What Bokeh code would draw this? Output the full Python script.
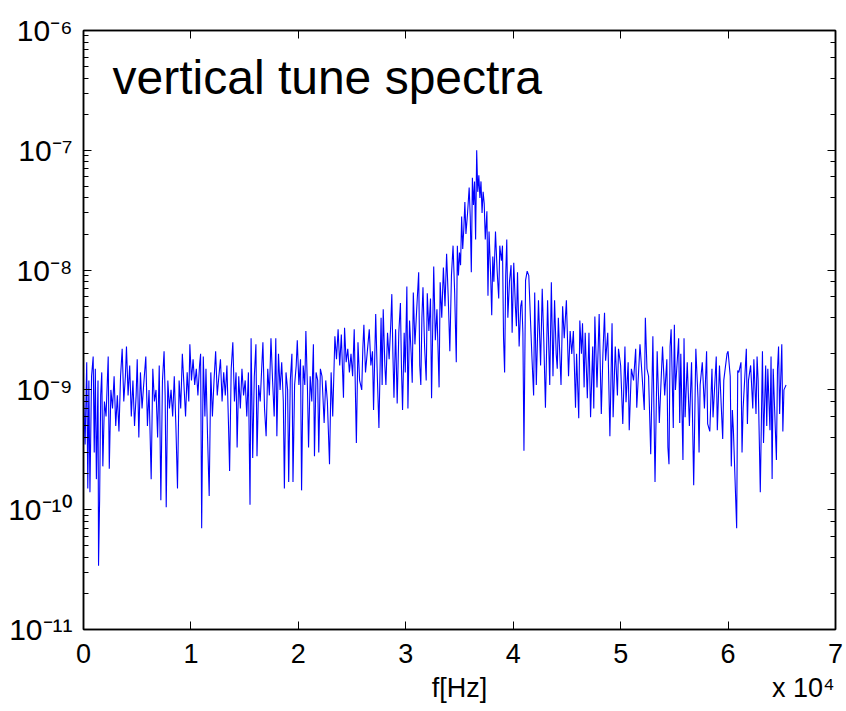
import numpy as np
from bokeh.plotting import figure
from bokeh.models import Range1d, LinearAxis, LogAxis, FixedTicker, Label, CustomJSTickFormatter
from bokeh.embed import file_html
from bokeh.resources import INLINE

# frequency in units of 1e4 Hz, spectral value in units of 1e-9
seg_a = [(0.000, 0.9), (0.015, 0.35), (0.030, 1.7), (0.040, 0.15), (0.050, 1.2), (0.060, 0.14),
         (0.075, 1.3), (0.090, 1.9), (0.100, 0.3), (0.110, 1.5), (0.120, 0.18), (0.135, 1.2),
         (0.140, 0.034), (0.150, 0.12), (0.160, 0.9), (0.170, 1.4), (0.180, 0.23), (0.195, 0.8),
         (0.210, 0.6), (0.230, 1.9), (0.240, 0.22), (0.255, 1.0), (0.270, 0.7), (0.285, 1.3),
         (0.300, 0.5), (0.315, 0.9), (0.330, 0.45), (0.345, 1.3), (0.360, 2.2), (0.375, 0.8),
         (0.390, 1.3), (0.400, 2.3), (0.415, 0.9), (0.430, 1.6), (0.445, 0.6), (0.460, 1.2),
         (0.475, 0.5), (0.490, 0.9), (0.500, 1.8), (0.515, 0.4), (0.530, 1.4), (0.545, 0.7),
         (0.560, 1.1), (0.580, 1.9), (0.595, 0.5), (0.610, 1.0), (0.630, 0.18), (0.645, 1.5),
         (0.660, 0.8), (0.675, 1.0), (0.690, 0.4), (0.705, 1.6), (0.720, 0.12), (0.735, 1.2),
         (0.750, 2.1), (0.760, 0.9), (0.770, 0.105), (0.785, 1.2), (0.800, 0.7), (0.815, 1.0),
         (0.830, 0.6), (0.845, 1.3), (0.860, 0.5), (0.875, 0.15), (0.890, 1.2), (0.905, 0.7),
         (0.920, 2.0), (0.935, 1.1), (0.950, 0.6), (0.965, 1.4), (0.980, 0.8), (0.990, 2.4),
         (1.005, 1.2), (1.020, 1.8), (1.035, 1.1), (1.050, 1.5), (1.065, 0.9), (1.080, 1.6),
         (1.090, 2.0), (1.100, 0.07), (1.115, 1.9), (1.130, 0.6), (1.140, 1.5), (1.155, 0.4),
         (1.170, 0.13), (1.185, 1.4), (1.200, 0.6), (1.215, 1.2), (1.230, 2.1), (1.245, 0.9),
         (1.260, 1.3), (1.275, 1.8), (1.290, 0.8), (1.305, 1.4), (1.320, 0.9), (1.335, 1.6),
         (1.350, 0.5), (1.360, 0.21), (1.375, 1.5), (1.390, 2.5)]

seg_b = [(1.405, 0.8), (1.420, 1.4), (1.430, 0.33), (1.445, 1.3), (1.460, 0.7), (1.475, 1.5),
         (1.490, 0.9), (1.505, 1.2), (1.520, 0.6), (1.535, 1.4), (1.550, 0.11), (1.560, 2.7),
         (1.575, 0.27), (1.590, 1.3), (1.605, 2.4), (1.615, 0.28), (1.630, 1.1), (1.645, 0.8),
         (1.660, 1.6), (1.670, 2.5), (1.685, 0.7), (1.700, 0.41), (1.715, 1.5), (1.730, 0.9),
         (1.745, 2.7), (1.760, 1.2), (1.775, 0.6), (1.790, 2.7), (1.800, 0.41), (1.815, 2.0),
         (1.830, 1.0), (1.845, 1.7), (1.860, 0.8), (1.870, 0.15), (1.885, 1.4), (1.900, 1.0),
         (1.910, 0.17), (1.925, 1.2), (1.940, 2.0), (1.950, 0.17), (1.965, 1.1), (1.980, 1.6),
         (1.990, 2.6), (2.005, 1.1), (2.020, 1.8), (2.030, 0.145), (2.045, 1.6), (2.060, 1.1),
         (2.070, 3.1), (2.085, 1.0), (2.095, 0.33), (2.110, 1.3), (2.125, 0.8), (2.140, 2.4),
         (2.150, 0.28), (2.165, 1.4), (2.180, 1.2), (2.190, 0.3), (2.205, 1.5), (2.220, 1.3),
         (2.240, 0.53), (2.255, 1.2), (2.270, 0.8), (2.290, 0.24), (2.305, 1.4), (2.320, 0.6),
         (2.340, 2.8), (2.355, 1.8), (2.370, 3.2), (2.385, 1.6), (2.400, 2.9), (2.420, 0.86),
         (2.430, 3.3), (2.445, 1.7), (2.460, 2.2), (2.475, 1.4), (2.490, 2.0), (2.505, 1.3),
         (2.520, 3.2), (2.540, 0.36), (2.555, 2.5), (2.570, 1.2), (2.590, 1.0), (2.600, 2.2),
         (2.610, 3.5), (2.625, 1.4), (2.640, 2.0), (2.660, 3.2), (2.675, 1.6), (2.690, 2.1),
         (2.700, 0.68), (2.720, 4.3), (2.735, 1.3), (2.750, 0.48), (2.765, 2.4), (2.770, 4.0),
         (2.780, 1.1), (2.790, 4.7)]

seg_c = [(2.805, 1.6), (2.815, 1.1), (2.830, 3.0), (2.845, 1.8), (2.860, 3.5), (2.870, 6.3),
         (2.880, 2.0), (2.890, 0.86), (2.905, 3.2), (2.920, 0.77), (2.935, 3.0), (2.950, 5.3),
         (2.960, 1.5), (2.970, 0.68), (2.985, 3.0), (2.995, 1.4), (3.010, 7.3), (3.020, 0.7),
         (3.035, 3.8), (3.050, 2.0), (3.060, 1.15), (3.070, 6.5), (3.085, 2.4), (3.100, 4.4),
         (3.120, 9.6), (3.130, 1.6), (3.140, 1.1), (3.150, 4.0), (3.160, 7.2), (3.175, 2.3),
         (3.190, 1.2), (3.200, 6.4), (3.215, 3.1), (3.230, 5.8), (3.240, 0.85), (3.260, 10.7),
         (3.275, 2.6), (3.290, 4.7), (3.310, 1.05), (3.320, 7.9), (3.335, 4.0), (3.350, 10.5),
         (3.365, 5.0), (3.380, 13.7), (3.395, 6.0), (3.410, 2.1), (3.425, 9.0), (3.440, 16.0),
         (3.455, 6.5), (3.470, 1.7), (3.480, 16.0), (3.490, 9.0), (3.500, 14.0), (3.510, 11.0),
         (3.520, 28.0), (3.530, 15.0), (3.540, 22.0), (3.550, 37.0), (3.560, 20.0), (3.575, 30.0),
         (3.590, 49.0), (3.600, 28.0), (3.610, 9.6), (3.620, 59.0), (3.630, 35.0), (3.640, 55.0),
         (3.650, 18.0), (3.660, 100.0), (3.670, 45.0), (3.680, 62.0), (3.690, 40.0), (3.700, 55.0)]

seg_d = [(3.710, 30.0), (3.720, 45.0), (3.730, 36.0), (3.740, 18.0), (3.755, 31.0), (3.765, 6.1),
         (3.775, 21.0), (3.790, 9.0), (3.800, 4.2), (3.810, 13.0), (3.820, 8.0), (3.835, 21.0),
         (3.850, 10.0), (3.865, 5.8), (3.875, 16.0), (3.890, 12.0), (3.900, 16.0), (3.910, 2.7),
         (3.920, 1.4), (3.930, 9.0), (3.940, 18.0), (3.950, 4.0), (3.965, 8.0), (3.980, 11.0),
         (3.990, 3.0), (4.005, 11.5), (4.020, 5.0), (4.030, 3.4), (4.040, 9.6), (4.055, 2.3),
         (4.070, 5.0), (4.080, 5.6), (4.090, 3.0), (4.100, 0.31), (4.115, 8.2), (4.130, 9.8),
         (4.145, 9.0), (4.160, 4.0), (4.175, 1.8), (4.190, 0.9), (4.200, 6.5), (4.215, 1.1),
         (4.235, 5.6), (4.255, 1.6), (4.270, 7.0), (4.285, 2.5), (4.300, 0.71), (4.320, 5.6),
         (4.340, 1.1), (4.355, 7.9), (4.370, 1.3), (4.385, 5.6), (4.400, 2.0), (4.410, 1.5),
         (4.420, 4.0), (4.445, 1.1), (4.460, 5.0), (4.475, 2.7), (4.495, 5.6), (4.515, 1.3),
         (4.530, 3.1), (4.545, 2.0), (4.560, 3.1), (4.580, 0.71), (4.590, 2.0), (4.610, 0.58),
         (4.620, 3.8), (4.635, 2.0), (4.645, 3.6), (4.660, 1.05), (4.670, 3.0), (4.690, 0.85),
         (4.705, 3.0), (4.720, 0.59), (4.740, 2.3), (4.750, 0.7), (4.760, 4.1), (4.780, 1.05),
         (4.800, 4.3), (4.820, 0.63), (4.835, 2.0), (4.850, 4.4), (4.860, 1.75), (4.880, 3.0),
         (4.900, 0.41), (4.920, 3.6), (4.930, 0.59), (4.950, 2.3), (4.970, 0.9), (4.980, 2.2),
         (5.000, 1.6), (5.020, 0.52), (5.040, 2.3), (5.050, 0.79), (5.070, 1.7), (5.080, 0.46),
         (5.100, 1.5), (5.120, 1.2), (5.140, 2.2), (5.150, 0.71), (5.180, 2.4)]

seg_e = [(5.200, 1.3), (5.220, 0.68), (5.230, 4.0), (5.245, 1.5), (5.260, 1.3), (5.280, 0.29),
         (5.300, 2.8), (5.320, 0.17), (5.340, 2.1), (5.360, 0.53), (5.390, 2.3), (5.410, 0.9),
         (5.430, 1.8), (5.440, 0.33), (5.450, 0.24), (5.460, 2.3), (5.470, 3.2), (5.490, 0.48),
         (5.500, 3.5), (5.510, 1.0), (5.540, 2.7), (5.550, 0.53), (5.560, 2.0), (5.580, 0.26),
         (5.590, 2.7), (5.600, 0.59), (5.620, 1.7), (5.640, 0.5), (5.660, 1.7), (5.680, 0.16),
         (5.700, 2.2), (5.720, 0.86), (5.730, 0.3), (5.740, 1.1), (5.760, 1.7), (5.780, 0.7),
         (5.800, 2.1), (5.810, 0.52), (5.830, 0.45), (5.850, 1.5), (5.860, 0.59), (5.890, 1.9),
         (5.900, 0.46), (5.920, 1.6), (5.950, 0.39), (5.960, 1.2), (5.990, 2.0), (6.000, 2.1),
         (6.020, 1.3), (6.030, 0.23), (6.040, 0.68), (6.050, 0.45), (6.080, 0.07), (6.090, 1.45),
         (6.100, 1.4), (6.120, 1.7), (6.130, 0.3), (6.140, 0.7), (6.170, 2.2), (6.180, 0.52),
         (6.190, 1.2), (6.210, 1.6), (6.230, 0.7), (6.240, 1.8), (6.260, 0.63), (6.270, 1.9),
         (6.280, 1.2), (6.300, 0.14), (6.320, 2.1), (6.330, 0.36), (6.350, 1.6), (6.360, 0.5),
         (6.370, 1.5), (6.390, 0.46), (6.400, 1.9), (6.410, 0.18), (6.420, 1.5), (6.450, 0.26),
         (6.460, 1.5), (6.470, 2.3), (6.480, 0.63), (6.500, 2.4), (6.510, 0.45), (6.520, 1.0),
         (6.540, 1.1)]

x_ticks = [0, 1, 2, 3, 4, 5, 6, 7]
y_tick_labels = ["10\u207b\u2076", "10\u207b\u2077", "10\u207b\u2078",
                 "10\u207b\u2079", "10\u207b\u00b9\u2070", "10\u207b\u00b9\u00b9"]  # 1e-6 ... 1e-11
title_text = "vertical tune spectra"
bottom_texts = ["f[Hz]", "x 10\u2074"]
bottom_text_pos = [3.5, 6.70]  # x positions (units of 1e4 Hz) where these texts are centred

pts = sorted(seg_a + seg_b + seg_c + seg_d + seg_e, key=lambda t: t[0])
f_e4 = np.array([t[0] for t in pts])
spec = np.array([t[1] for t in pts]) * 1e-9

FONT = "Liberation Sans"
FRAME_L, FRAME_T, FRAME_W, FRAME_H = 83, 30, 752, 599

p = figure(frame_width=FRAME_W, frame_height=FRAME_H,
           x_range=Range1d(0, 7), y_range=Range1d(1e-11, 1e-6),
           y_axis_type="log", output_backend="svg", toolbar_location=None,
           min_border_left=FRAME_L, min_border_right=846 - FRAME_L - FRAME_W,
           min_border_top=FRAME_T, min_border_bottom=711 - FRAME_T - FRAME_H,
           background_fill_color="white", border_fill_color="white")
p.grid.visible = False
p.outline_line_color = "black"
p.outline_line_width = 1.5

p.line(f_e4, spec, line_color="#0000ff", line_width=1.1)

blank = CustomJSTickFormatter(code="return '';")


def style_axis(ax, minor):
    ax.axis_line_color = "black"
    ax.axis_line_width = 1.5
    ax.major_tick_in = 8
    ax.major_tick_out = 0
    ax.major_tick_line_color = "black"
    ax.major_tick_line_width = 1
    if minor:
        ax.minor_tick_in = 5
        ax.minor_tick_out = 0
        ax.minor_tick_line_color = "black"
        ax.minor_tick_line_width = 1
    else:
        ax.minor_tick_line_color = None


xb = p.xaxis[0]
xb.ticker = FixedTicker(ticks=x_ticks)
style_axis(xb, False)
xb.major_label_text_font = FONT
xb.major_label_text_font_size = "27px"
xb.major_label_text_color = "black"
xb.major_label_standoff = 14

# extra label-only axis below for "f[Hz]" and "x 10^4"
xl = LinearAxis(ticker=FixedTicker(ticks=bottom_text_pos),
                formatter=CustomJSTickFormatter(args=dict(labels=bottom_texts),
                                                code="return labels[index];"))
xl.axis_line_color = None
xl.major_tick_line_color = None
xl.minor_tick_line_color = None
xl.major_tick_in = 0
xl.major_tick_out = 0
xl.major_label_text_font = FONT
xl.major_label_text_font_size = "27px"
xl.major_label_text_color = "black"
xl.major_label_standoff = 7
p.add_layout(xl, "below")

yl = p.yaxis[0]
style_axis(yl, True)
yl.formatter = CustomJSTickFormatter(
    args=dict(labels=y_tick_labels),
    code="const i = Math.round(-6 - Math.log10(tick)); return (i >= 0 && i < labels.length) ? labels[i] : '';")
yl.major_label_text_font = FONT
yl.major_label_text_font_size = "30px"
yl.major_label_text_color = "black"
yl.major_label_standoff = 11

xt = LinearAxis(ticker=FixedTicker(ticks=x_ticks), formatter=blank)
style_axis(xt, False)
xt.major_label_standoff = 0
p.add_layout(xt, "above")

yr = LogAxis(formatter=blank)
style_axis(yr, True)
yr.major_label_standoff = 0
p.add_layout(yr, "right")

p.add_layout(Label(x=0, y=1e-6, text=title_text, x_offset=29, y_offset=-47,
                   text_align="left", text_baseline="alphabetic",
                   text_font=FONT, text_font_size="48px", text_color="black"))

open("out.html", "w").write(file_html(p, INLINE))
